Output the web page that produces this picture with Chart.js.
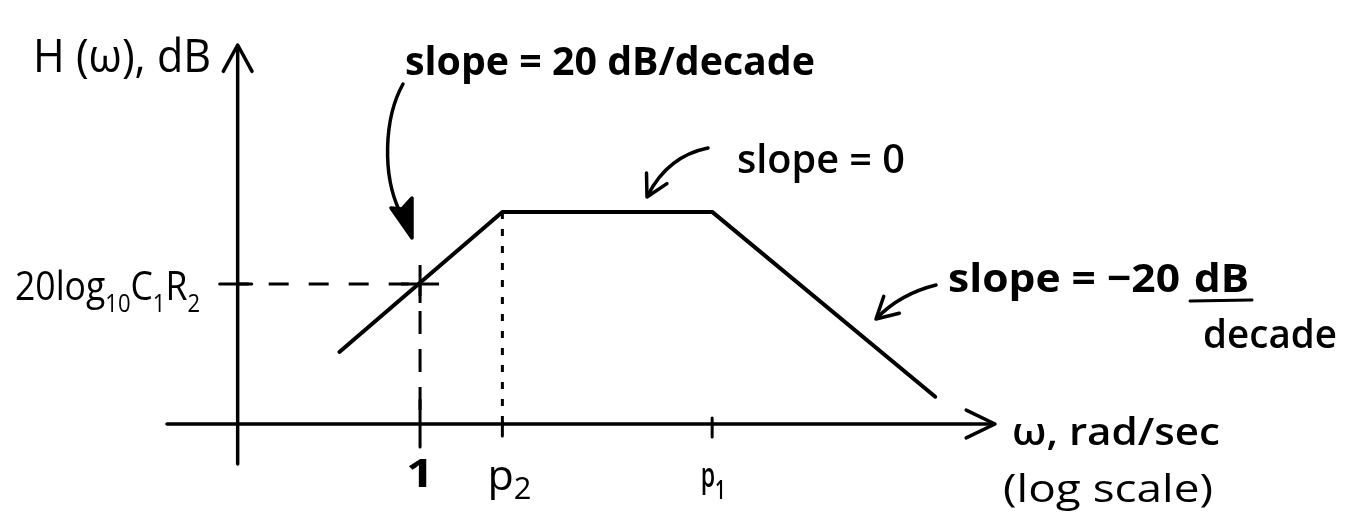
<!DOCTYPE html>
<html>
<head>
<meta charset="utf-8">
<script src="https://cdn.jsdelivr.net/npm/chart.js@4/dist/chart.umd.min.js"></script>
<style>
  html, body { margin: 0; padding: 0; background: #fff; }
  #wrap { width: 1354px; height: 523px; }
</style>
</head>
<body>
<div id="wrap"><canvas id="bode"></canvas></div>
<script>
// Asymptotic (straight-line) magnitude response, dB versus ω on a log axis
const breakLabels = [['1'], ['p', '2'], ['p', '1']];   // [symbol, subscript]
const breakFreqs  = [1, 3.2, 62];
const magFreqs    = [0.32, 3.2, 62, 1450];
const magDb       = [10.3, 30.3, 30.3, 3.9];
const refLevelDb  = 20;        // 20 log10(C1 R2), reached at ω = 1
const refLabel    = [['20log'], ['', '10'], ['C'], ['', '1'], ['R'], ['', '2']];
const originFreq  = 0.076;     // where the dB axis crosses the ω axis
const freqRange   = [0.028, 3373];
const dbRange     = [-5.14, 54.14];

const INK = '#000';
const FONT = '"Open Sans", "DejaVu Sans", sans-serif';

const pts = (xs, ys) => xs.map((x, i) => ({ x, y: ys[i] }));

function seg(ctx, x1, y1, x2, y2, w) {
  ctx.lineWidth = w;
  ctx.beginPath(); ctx.moveTo(x1, y1); ctx.lineTo(x2, y2); ctx.stroke();
}

function head(ctx, tx, ty, ang, len, spread, w) {
  ctx.lineWidth = w;
  ctx.beginPath();
  ctx.moveTo(tx + len * Math.cos(ang + Math.PI - spread), ty + len * Math.sin(ang + Math.PI - spread));
  ctx.lineTo(tx, ty);
  ctx.lineTo(tx + len * Math.cos(ang + Math.PI + spread), ty + len * Math.sin(ang + Math.PI + spread));
  ctx.stroke();
}

// text stretched to a given width
function fitText(ctx, str, x, y, w, size, weight) {
  ctx.font = `${weight || 600} ${size}px ${FONT}`;
  const natural = ctx.measureText(str).width;
  const sx = w ? w / natural : 1;
  ctx.save();
  ctx.translate(x, y);
  ctx.scale(sx, 1);
  ctx.textAlign = 'left';
  ctx.textBaseline = 'alphabetic';
  ctx.fillText(str, 0, 0);
  ctx.restore();
}

// symbol + subscript runs, e.g. [['p','2']] ; left edge (or centre) at x
function richText(ctx, runs, x, y, size, weight, subScale, subDrop, w, align) {
  const items = [];
  runs.forEach(([main, sub]) => {
    if (main) items.push({ t: main, s: size, dy: 0 });
    if (sub) items.push({ t: sub, s: size * subScale, dy: size * subDrop });
  });
  let total = 0;
  items.forEach(it => {
    ctx.font = `${weight} ${it.s}px ${FONT}`;
    it.w = ctx.measureText(it.t).width;
    total += it.w;
  });
  const sx = w ? w / total : 1;
  const left = align === 'center' ? x - total * sx / 2 : x;
  ctx.save();
  ctx.translate(left, y);
  ctx.scale(sx, 1);
  ctx.textAlign = 'left';
  ctx.textBaseline = 'alphabetic';
  let cx = 0;
  items.forEach(it => {
    ctx.font = `${weight} ${it.s}px ${FONT}`;
    ctx.fillText(it.t, cx, it.dy);
    cx += it.w;
  });
  ctx.restore();
}

// per-label look of the ω-axis tick labels
const tickStyle = [
  { dx: 0,  dy: 63, w: 28, size: 40, weight: 700, subScale: 0.7,  subDrop: 0.2 },
  { dx: 7,  dy: 66, w: 44, size: 42, weight: 500, subScale: 0.72, subDrop: 0.22 },
  { dx: 1,  dy: 63, w: 25, size: 34, weight: 600, subScale: 0.8,  subDrop: 0.36 }
];

const sketch = {
  id: 'sketch',
  afterDraw(chart) {
    const { ctx, chartArea: ca, scales: { x, y } } = chart;
    const X = v => x.getPixelForValue(v);
    const Y = v => y.getPixelForValue(v);
    const y0 = Y(0), x0 = X(originFreq);
    ctx.save();
    ctx.strokeStyle = INK; ctx.fillStyle = INK;
    ctx.lineCap = 'round'; ctx.lineJoin = 'round';

    // ω axis with arrow
    seg(ctx, ca.left, y0, ca.right - 2, y0, 3.5);
    head(ctx, ca.right, y0, 0, 32, 0.45, 3.5);
    // dB axis with arrow
    seg(ctx, x0, ca.bottom + 4, x0, ca.top + 2, 3.5);
    head(ctx, x0, ca.top, -Math.PI / 2, 30, 0.5, 3.5);

    // tick on the dB axis at the reference level
    seg(ctx, x0 - 18, Y(refLevelDb), x0 + 14, Y(refLevelDb), 3);

    // ticks on the ω axis
    seg(ctx, X(breakFreqs[0]), y0 - 24, X(breakFreqs[0]), y0 + 23, 3);
    seg(ctx, X(breakFreqs[1]), y0, X(breakFreqs[1]), y0 + 12, 3);
    seg(ctx, X(breakFreqs[2]), y0 - 6, X(breakFreqs[2]), y0 + 13, 3);

    // tick labels
    breakLabels.forEach((runs, i) => {
      const s = tickStyle[i];
      richText(ctx, [runs], X(breakFreqs[i]) + s.dx, y0 + s.dy, s.size,
        s.weight, s.subScale, s.subDrop, s.w, 'center');
    });
    richText(ctx, refLabel, 15, Y(refLevelDb) + 16, 40, 500, 0.62, 0.3, 185);

    // axis titles
    fitText(ctx, 'H (ω), dB', 33, 72, 178, 46, 500);
    fitText(ctx, 'ω, rad/sec', 1012, 445, 208, 38, 600);
    fitText(ctx, '(log scale)', 1003, 502, 210, 38, 500);

    // slope notes
    fitText(ctx, 'slope = 20 dB/decade', 405, 75, 410, 40, 700);
    fitText(ctx, 'slope = 0', 737, 173, 168, 40, 600);
    fitText(ctx, 'slope = −20', 948, 292, 232, 40, 700);
    fitText(ctx, 'dB', 1194, 292, 55, 40, 700);
    seg(ctx, 1190, 301, 1252, 300, 3);
    fitText(ctx, 'decade', 1203, 348, 134, 40, 600);

    // pointer arrows
    ctx.lineWidth = 3.5;
    ctx.beginPath(); ctx.moveTo(403, 84);
    ctx.bezierCurveTo(384, 118, 382, 175, 400, 212); ctx.stroke();
    ctx.beginPath();
    ctx.moveTo(412, 238); ctx.lineTo(391, 208); ctx.lineTo(402, 209);
    ctx.lineTo(412, 198); ctx.closePath(); ctx.fill(); ctx.stroke();

    ctx.beginPath(); ctx.moveTo(708, 148);
    ctx.quadraticCurveTo(668, 156, 648, 195); ctx.stroke();
    head(ctx, 647, 197, 2.05, 24, 0.5, 3.5);

    ctx.beginPath(); ctx.moveTo(936, 285);
    ctx.quadraticCurveTo(900, 294, 877, 318); ctx.stroke();
    head(ctx, 876, 319, 2.4, 24, 0.5, 3.5);

    ctx.restore();
  }
};

new Chart(document.getElementById('bode'), {
  type: 'scatter',
  data: {
    datasets: [
      { // magnitude asymptotes
        data: pts(magFreqs, magDb),
        showLine: true, borderColor: INK, borderWidth: 4, pointRadius: 0,
        borderCapStyle: 'round', borderJoinStyle: 'round'
      },
      { // dashed guide from the dB axis to ω = 1
        data: [{ x: originFreq, y: refLevelDb }, { x: breakFreqs[0], y: refLevelDb }],
        showLine: true, borderColor: INK, borderWidth: 3, pointRadius: 0,
        borderDash: [20, 20], borderDashOffset: 9
      },
      { // dashed drop at ω = 1
        data: [{ x: breakFreqs[0], y: refLevelDb }, { x: breakFreqs[0], y: 0 }],
        showLine: true, borderColor: INK, borderWidth: 3, pointRadius: 0,
        borderDash: [23, 15], borderDashOffset: -27
      },
      { // dotted drop at p2
        data: [{ x: breakFreqs[1], y: magDb[1] }, { x: breakFreqs[1], y: 0 }],
        showLine: true, borderColor: INK, borderWidth: 3, pointRadius: 0,
        borderDash: [7, 10]
      },
      { // crossing mark at ω = 1
        data: [{ x: breakFreqs[0], y: refLevelDb }],
        pointStyle: 'cross', pointRadius: 19, borderColor: INK, borderWidth: 3
      }
    ]
  },
  options: {
    responsive: true,
    maintainAspectRatio: false,
    animation: false,
    devicePixelRatio: 1,
    layout: { padding: { left: 167, right: 359, top: 45, bottom: 63 } },
    plugins: { legend: { display: false }, tooltip: { enabled: false } },
    scales: {
      x: { type: 'logarithmic', min: freqRange[0], max: freqRange[1], display: false },
      y: { type: 'linear', min: dbRange[0], max: dbRange[1], display: false }
    }
  },
  plugins: [sketch]
});
</script>
</body>
</html>
